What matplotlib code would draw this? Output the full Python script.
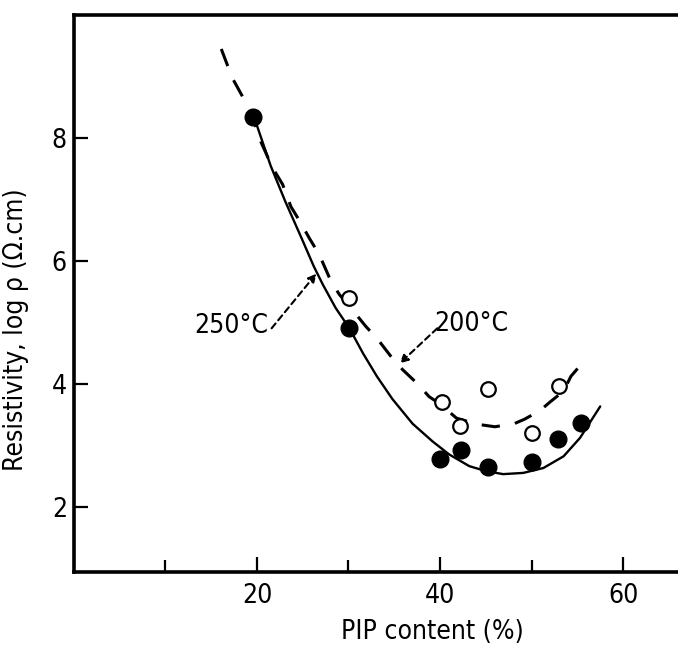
import matplotlib
matplotlib.use("Agg")
import matplotlib.pyplot as plt

# measured points
pip_250 = [19.6, 30.1, 40.0, 42.3, 45.2, 50.1, 52.9, 55.4]
rho_250 = [8.35, 4.91, 2.79, 2.93, 2.65, 2.74, 3.11, 3.37]
pip_200 = [30.1, 40.2, 42.2, 45.2, 50.0, 53.0]
rho_200 = [5.40, 3.72, 3.32, 3.92, 3.21, 3.97]

# fitted curves as drawn
curve_250_x = [19.6, 21.5, 23.1, 24.8, 26.2, 27.2, 28.6, 30.1, 31.6, 33.1,
               34.8, 37.0, 39.2, 41.0, 43.2, 45.0, 46.9, 49.1, 51.3, 53.5,
               55.3, 57.5]
curve_250_y = [8.38, 7.55, 6.97, 6.40, 5.92, 5.62, 5.24, 4.91, 4.50, 4.13,
               3.76, 3.36, 3.07, 2.86, 2.67, 2.59, 2.54, 2.56, 2.64, 2.83,
               3.13, 3.64]
curve_200_x = [16.1, 17.3, 19.3, 20.4, 21.7, 22.8, 23.7, 24.8, 25.7, 26.8,
               28.1, 29.0, 30.2, 31.9, 33.2, 34.6, 35.9, 37.6, 38.8, 40.0,
               41.8, 44.1, 46.0, 48.1, 49.2, 50.9, 52.0, 53.5, 54.3, 55.4]
curve_200_y = [9.45, 8.98, 8.44, 7.95, 7.52, 7.25, 6.89, 6.62, 6.38, 6.11,
               5.67, 5.46, 5.25, 4.94, 4.73, 4.46, 4.24, 4.00, 3.80, 3.68,
               3.45, 3.35, 3.31, 3.36, 3.43, 3.57, 3.71, 3.89, 4.13, 4.32]

FONT = dict(family="DejaVu Sans", stretch="condensed")

fig = plt.figure(figsize=(6.78, 6.46), dpi=100)
ax = fig.add_axes([0.109, 0.1146, 0.891, 0.862])
ax.set_xlim(0, 66)
ax.set_ylim(0.95, 10.0)

ax.plot(curve_250_x, curve_250_y, color="black", lw=1.7,
        solid_joinstyle="round", solid_capstyle="round")
ax.plot(curve_200_x, curve_200_y, color="black", lw=2.2, linestyle=(0, (6, 5)))
ax.plot(pip_250, rho_250, "o", color="black", ms=12, mec="black")
ax.plot(pip_200, rho_200, "o", mfc="white", mec="black", ms=10.5, mew=1.6)

# annotations
ax.annotate("", xy=(26.5, 5.80), xytext=(21.6, 4.91),
            arrowprops=dict(arrowstyle="-|>", color="black", lw=1.5,
                            linestyle=(0, (3, 2)), mutation_scale=12,
                            shrinkA=0, shrinkB=0))
ax.text(13.1, 4.83, "250°C", ha="left", va="baseline", fontsize=19, **FONT)
ax.annotate("", xy=(35.6, 4.34), xytext=(39.7, 4.91),
            arrowprops=dict(arrowstyle="-|>", color="black", lw=1.5,
                            linestyle=(0, (3, 2)), mutation_scale=12,
                            shrinkA=0, shrinkB=0))
ax.text(39.4, 4.86, "200°C", ha="left", va="baseline", fontsize=19, **FONT)

# axes styling
for side in ("left", "bottom", "top"):
    ax.spines[side].set_linewidth(2.6)
ax.spines["right"].set_visible(False)

ax.set_xticks([20, 40, 60])
ax.set_xticks([10, 30, 50], minor=True)
ax.set_yticks([2, 4, 6, 8])
ax.tick_params(axis="both", which="major", direction="in", width=1.6,
               labelsize=19, top=False, right=False)
ax.tick_params(axis="x", which="major", length=11, pad=8)
ax.tick_params(axis="x", which="minor", direction="in", length=9, width=1.6)
ax.tick_params(axis="y", which="major", length=10, pad=5)
for lab in ax.get_xticklabels() + ax.get_yticklabels():
    lab.set_fontstretch("condensed")

ax.set_xlabel("PIP content (%)", fontsize=19, **FONT)
ax.xaxis.set_label_coords((432 - 74) / 604, -0.085)
ax.set_ylabel("Resistivity, log ρ (Ω.cm)", fontsize=19, **FONT)
ax.yaxis.set_label_coords(-0.075, (572 - 330) / 557)

fig.savefig("out.png", dpi=100, facecolor="white")
